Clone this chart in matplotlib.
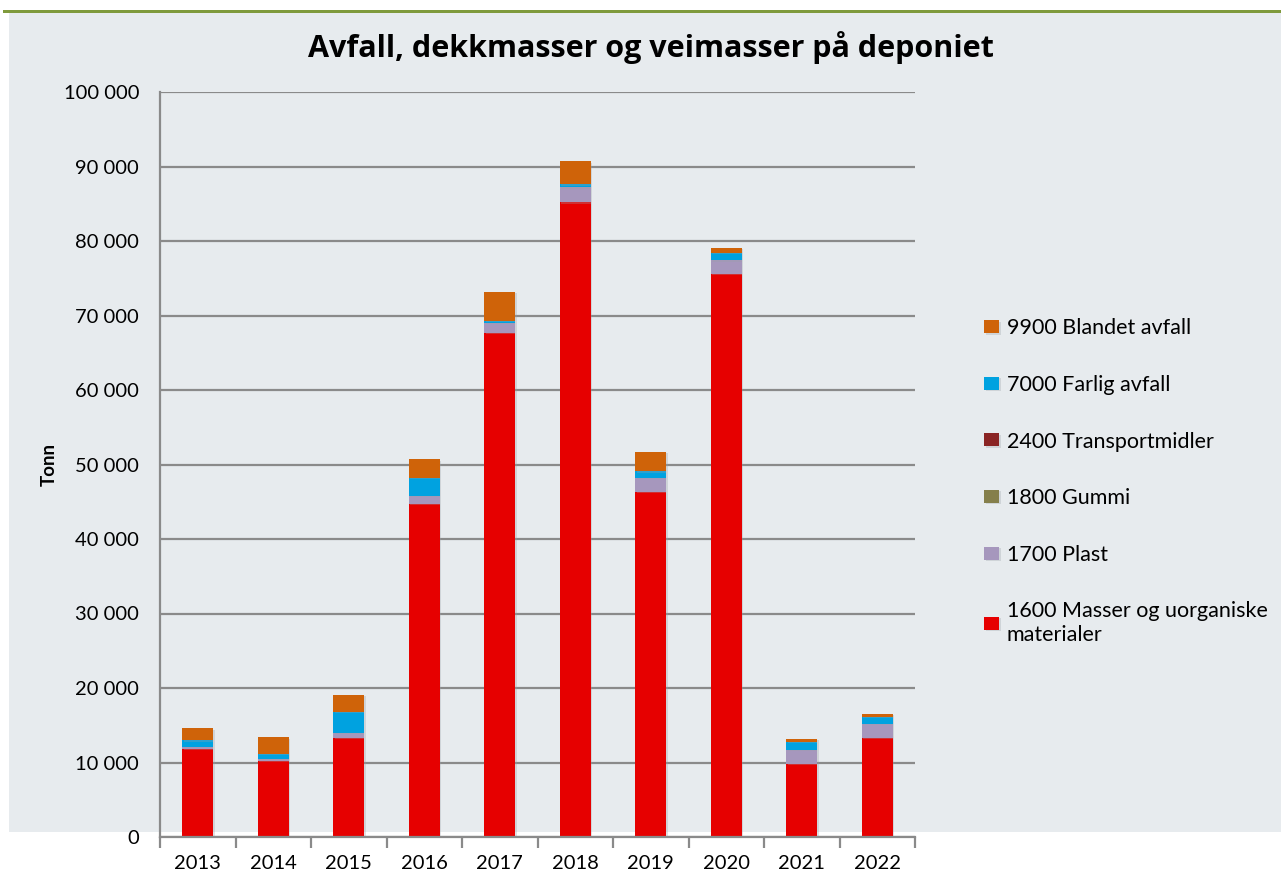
import numpy as np
import matplotlib.pyplot as plt
import matplotlib.patheffects as pe
from matplotlib.patches import Rectangle
from matplotlib.ticker import FuncFormatter

years = ['2013', '2014', '2015', '2016', '2017', '2018', '2019', '2020', '2021', '2022']
masser = [11800, 10200, 13300, 44700, 67700, 85200, 46300, 75600, 9800, 13300]
plast = [300, 300, 700, 1100, 1300, 2000, 1900, 1800, 1900, 1900]
gummi = [0, 0, 0, 0, 0, 0, 0, 0, 0, 0]
transport = [0, 0, 0, 0, 0, 0, 0, 0, 0, 0]
farlig = [900, 700, 2800, 2400, 300, 400, 900, 1000, 1050, 900]
blandet = [1600, 2200, 2300, 2500, 3900, 3100, 2600, 700, 400, 400]

series = [
    ('1600 Masser og uorganiske\nmaterialer', masser, '#e60000'),
    ('1700 Plast', plast, '#a697bd'),
    ('1800 Gummi', gummi, '#857f4b'),
    ('2400 Transportmidler', transport, '#8a2424'),
    ('7000 Farlig avfall', farlig, '#00a2e0'),
    ('9900 Blandet avfall', blandet, '#cf6309'),
]

plt.rcParams['font.family'] = ['Lato', 'DejaVu Sans']

fig = plt.figure(figsize=(12.81, 8.77), dpi=100)
fig.patch.set_facecolor('white')
# grey panel and green top line
fig.add_artist(Rectangle((9/1281, (877-832)/877), 1 - 9/1281, (832-12)/877,
                         transform=fig.transFigure, facecolor='#e7ebee', edgecolor='none', zorder=0))
fig.add_artist(Rectangle((3/1281, (877-13)/877), 1, 3/877,
                         transform=fig.transFigure, facecolor='#7f9a3c', edgecolor='none', zorder=0))

ax = fig.add_axes([160/1281, (877-837)/877, (915-160)/1281, (837-92)/877])
ax.set_facecolor('none')

x = np.arange(len(years))
bottom = np.zeros(len(years))
handles = []
shadow = [pe.SimplePatchShadow(offset=(1, -1), shadow_rgbFace='#9aa0a6', alpha=0.3), pe.Normal()]
for label, vals, color in series:
    vals = np.array(vals, dtype=float)
    b = ax.bar(x, vals, 0.41, bottom=bottom, color=color, label=label, zorder=3)
    for p in b:
        p.set_path_effects(shadow)
    handles.append(b)
    bottom += vals

ax.set_ylim(0, 100000)
ax.set_xlim(-0.5, 9.5)
ax.set_yticks(np.arange(0, 100001, 10000))
ax.yaxis.set_major_formatter(FuncFormatter(lambda v, p: f'{int(v):,}'.replace(',', ' ')))
ax.grid(axis='y', color='#8a8a8a', linewidth=1.6, zorder=1)
ax.set_xticks(x)
ax.set_xticklabels(years)
ax.set_xticks(np.arange(-0.5, 10, 1), minor=True)
ax.tick_params(axis='x', which='major', length=0, labelsize=14.5, pad=13)
ax.tick_params(axis='x', which='minor', length=8, width=1.6, color='#8a8a8a', direction='out')
ax.tick_params(axis='y', length=0, labelsize=14.5, pad=15)

for s in ['top', 'right']:
    ax.spines[s].set_visible(False)
ax.spines['left'].set_color('#8a8a8a')
ax.spines['left'].set_linewidth(1.6)
ax.spines['bottom'].set_color('#8a8a8a')
ax.spines['bottom'].set_linewidth(1.6)
ax.spines['bottom'].set_zorder(4)

ax.set_ylabel('Tonn', fontsize=13.5, fontweight='bold', labelpad=4)

fig.text(651/1281, 1 - 48/877, 'Avfall, dekkmasser og veimasser på deponiet',
         ha='center', va='center', fontsize=22, fontweight='bold', family=['Open Sans', 'DejaVu Sans'])

leg = fig.legend(handles[::-1], [s[0] for s in series][::-1], loc='upper left',
                 bbox_to_anchor=(965/1281, 1 - 299/877), frameon=False, fontsize=15.5,
                 handlelength=0.7, handleheight=0.55, handletextpad=0.35, labelspacing=1.7)

fig.savefig('out.png', dpi=100)
